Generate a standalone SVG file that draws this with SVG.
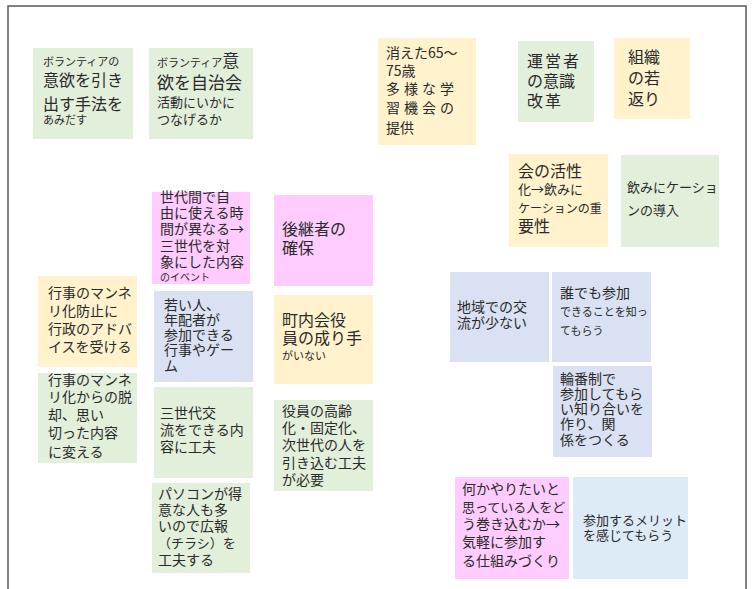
<svg xmlns="http://www.w3.org/2000/svg" width="753" height="589" viewBox="0 0 753 589">
<style>
text{font-family:"Noto Sans CJK JP","Noto Sans",sans-serif;fill:#2a2a2a;font-size:14px}
.g{fill:#e2efda}.y{fill:#fff2cc}.p{fill:#ffccff}.b{fill:#d9e1f2}.lb{fill:#ddebf7}
.s{font-size:11px}.m{font-size:13px}.l{font-size:16px}.xl{font-size:17px}
</style>
<rect width="753" height="589" fill="#fff"/>
<path d="M8,600 V6 H746 V600" fill="none" stroke="#5a5a5a" stroke-width="1.5"/>

<g id="n1"><rect class="g" x="33" y="48" width="100" height="91"/>
<text x="43"><tspan x="43" y="66" class="s">ボランティアの</tspan><tspan x="43" y="86" class="l">意欲を引き</tspan><tspan x="43" y="110" class="l">出す手法を</tspan><tspan x="43" y="124" class="s">あみだす</tspan></text></g>

<g id="n2"><rect class="g" x="149" y="48" width="104" height="91"/>
<text><tspan x="157" y="67" class="s">ボランティア</tspan><tspan class="xl">意</tspan><tspan x="157" y="89" class="xl">欲を自治会</tspan><tspan x="157" y="107" class="m">活動にいかに</tspan><tspan x="157" y="124" class="m">つなげるか</tspan></text></g>

<g id="n3"><rect class="y" x="378" y="38" width="98" height="107"/>
<text font-size="15"><tspan x="386" y="58">消えた65～</tspan><tspan x="386" y="76">75歳</tspan><tspan x="386" y="94" letter-spacing="4">多様な学</tspan><tspan x="386" y="113" letter-spacing="4">習機会の</tspan><tspan x="386" y="133">提供</tspan></text></g>

<g id="n4"><rect class="g" x="518" y="41" width="76" height="81"/>
<text class="l"><tspan x="527" y="67" letter-spacing="2">運営者</tspan><tspan x="527" y="87">の意識</tspan><tspan x="527" y="107" letter-spacing="2">改革</tspan></text></g>

<g id="n5"><rect class="y" x="614" y="38" width="76" height="81"/>
<text class="l"><tspan x="628" y="63">組織</tspan><tspan x="628" y="84">の若</tspan><tspan x="628" y="105">返り</tspan></text></g>

<g id="n6"><rect class="y" x="509" y="154" width="99" height="93"/>
<text><tspan x="518" y="177" class="l">会の活性</tspan><tspan x="518" y="194" class="m">化→飲みに</tspan><tspan x="518" y="213" font-size="12">ケーションの重</tspan><tspan x="518" y="232" class="l">要性</tspan></text></g>

<g id="n7"><rect class="g" x="621" y="155" width="98" height="92"/>
<text class="m"><tspan x="627" y="192">飲みにケーショ</tspan><tspan x="627" y="215">ンの導入</tspan></text></g>

<g id="n8"><rect class="p" x="152" y="192" width="98" height="92"/>
<text><tspan x="160" y="202">世代間で自</tspan><tspan x="160" y="218">由に使える時</tspan><tspan x="160" y="234">間が異なる→</tspan><tspan x="160" y="251">三世代を対</tspan><tspan x="160" y="267">象にした内容</tspan><tspan x="160" y="281" font-size="10">のイベント</tspan></text></g>

<g id="n9"><rect class="p" x="274" y="195" width="99" height="91"/>
<text class="l"><tspan x="282" y="235">後継者の</tspan><tspan x="282" y="254">確保</tspan></text></g>

<g id="n10"><rect class="b" x="154" y="291" width="99" height="91"/>
<text><tspan x="164" y="310">若い人、</tspan><tspan x="164" y="325">年配者が</tspan><tspan x="164" y="340">参加できる</tspan><tspan x="164" y="355">行事やゲー</tspan><tspan x="164" y="371">ム</tspan></text></g>

<g id="n11"><rect class="y" x="274" y="295" width="99" height="89"/>
<text><tspan x="282" y="326" class="l">町内会役</tspan><tspan x="282" y="344" class="l">員の成り手</tspan><tspan x="282" y="360" class="s">がいない</tspan></text></g>

<g id="n12"><rect class="y" x="38" y="276" width="99" height="91"/>
<text><tspan x="48" y="298">行事のマンネ</tspan><tspan x="48" y="316">リ化防止に</tspan><tspan x="48" y="334">行政のアドバ</tspan><tspan x="48" y="352">イスを受ける</tspan></text></g>

<g id="n13"><rect class="g" x="38" y="373" width="99" height="90"/>
<text><tspan x="48" y="385">行事のマンネ</tspan><tspan x="48" y="402">リ化からの脱</tspan><tspan x="48" y="420">却、思い</tspan><tspan x="48" y="438">切った内容</tspan><tspan x="48" y="457">に変える</tspan></text></g>

<g id="n14"><rect class="g" x="154" y="387" width="99" height="91"/>
<text font-size="15"><tspan x="160" y="418">三世代交</tspan><tspan x="160" y="435">流をできる内</tspan><tspan x="160" y="452">容に工夫</tspan></text></g>

<g id="n15"><rect class="g" x="152" y="483" width="98" height="90"/>
<text><tspan x="158" y="499">パソコンが得</tspan><tspan x="158" y="515">意な人も多</tspan><tspan x="158" y="531">いので広報</tspan><tspan x="158" y="548" class="m">（チラシ）を</tspan><tspan x="158" y="565">工夫する</tspan></text></g>

<g id="n16"><rect class="g" x="274" y="400" width="99" height="91"/>
<text><tspan x="282" y="416">役員の高齢</tspan><tspan x="282" y="433">化・固定化、</tspan><tspan x="282" y="450">次世代の人を</tspan><tspan x="282" y="468">引き込む工夫</tspan><tspan x="282" y="485">が必要</tspan></text></g>

<g id="n17"><rect class="b" x="450" y="272" width="99" height="90"/>
<text><tspan x="457" y="312">地域での交</tspan><tspan x="457" y="328">流が少ない</tspan></text></g>

<g id="n18"><rect class="b" x="552" y="272" width="99" height="90"/>
<text><tspan x="560" y="298">誰でも参加</tspan><tspan x="560" y="316" font-size="11">できることを知っ</tspan><tspan x="560" y="335" class="s">てもらう</tspan></text></g>

<g id="n19"><rect class="b" x="553" y="366" width="99" height="91"/>
<text><tspan x="560" y="384">輪番制で</tspan><tspan x="560" y="399">参加してもら</tspan><tspan x="560" y="414">い知り合いを</tspan><tspan x="560" y="429">作り、関</tspan><tspan x="560" y="445">係をつくる</tspan></text></g>

<g id="n20"><rect class="p" x="455" y="477" width="114" height="102"/>
<text><tspan x="462" y="494">何かやりたいと</tspan><tspan x="462" y="512" class="m">思っている人をど</tspan><tspan x="462" y="529">う巻き込むか→</tspan><tspan x="462" y="547">気軽に参加す</tspan><tspan x="462" y="566">る仕組みづくり</tspan></text></g>

<g id="n21"><rect class="lb" x="573" y="477" width="115" height="102"/>
<text class="m"><tspan x="583" y="525">参加するメリット</tspan><tspan x="583" y="540">を感じてもらう</tspan></text></g>
</svg>
